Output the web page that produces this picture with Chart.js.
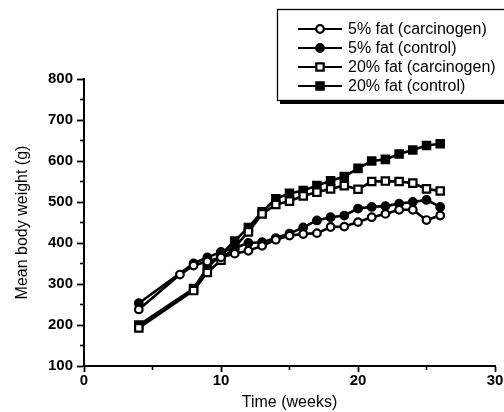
<!DOCTYPE html>
<html>
<head>
<meta charset="utf-8">
<script src="https://cdn.jsdelivr.net/npm/chart.js@4.4.1/dist/chart.umd.min.js"></script>
<style>
  body { margin: 0; background: #fff; }
  canvas { display: block; }
</style>
</head>
<body>
<canvas id="weightChart" width="504" height="412"></canvas>
<script>
// weeks at which each group was weighed
const weeksOpenCircle = [4, 7, 8, 9, 10, 11, 12, 13, 14, 15, 16, 17, 18, 19, 20, 21, 22, 23, 24, 25, 26];
const weeksOther = [4, 8, 9, 10, 11, 12, 13, 14, 15, 16, 17, 18, 19, 20, 21, 22, 23, 24, 25, 26];

// mean body weight (g)
const fat5Carcinogen = [238, 323, 345, 355, 365, 374, 381, 393, 408, 418, 422, 424, 439, 440, 451, 463, 471, 481, 481, 456, 467];
const fat5Control = [253, 350, 365, 378, 388, 400, 402, 412, 423, 438, 455, 463, 467, 484, 488, 490, 496, 500, 505, 488];
const fat20Carcinogen = [193, 284, 328, 358, 390, 427, 471, 494, 502, 515, 524, 532, 540, 531, 550, 551, 550, 546, 532, 527];
const fat20Control = [200, 289, 340, 372, 405, 438, 476, 508, 521, 528, 540, 552, 562, 582, 600, 604, 617, 627, 638, 642];

const seriesLabels = ['5% fat (carcinogen)', '5% fat (control)', '20% fat (carcinogen)', '20% fat (control)'];
const yTicksMinor = [150, 250, 350, 450, 550, 650, 750];
const xTicksMinor = [5, 15, 25];

const toPoints = (weeks, values) => weeks.map((w, i) => ({ x: w, y: values[i] }));

function makeSet(label, weeks, values, style, filled) {
    return {
        label: label,
        data: toPoints(weeks, values),
        borderColor: '#000',
        borderWidth: 2.6,
        tension: 0,
        pointStyle: style,
        pointRadius: style === 'rect' ? 5.2 : 3.8,
        pointBorderWidth: 2.2,
        pointBorderColor: '#000',
        pointBackgroundColor: filled ? '#000' : '#fff'
    };
}

// minor ticks and the boxed legend, drawn over the chart
const extrasPlugin = {
    id: 'extras',
    afterDraw(chart) {
        const ctx = chart.ctx;
        const x = chart.scales.x;
        const y = chart.scales.y;
        ctx.save();
        ctx.strokeStyle = '#000';
        ctx.lineWidth = 1.6;
        yTicksMinor.forEach(v => {
            const py = y.getPixelForValue(v);
            ctx.beginPath();
            ctx.moveTo(x.left - 4, py);
            ctx.lineTo(x.left, py);
            ctx.stroke();
        });
        xTicksMinor.forEach(v => {
            const px = x.getPixelForValue(v);
            ctx.beginPath();
            ctx.moveTo(px, y.bottom);
            ctx.lineTo(px, y.bottom + 4);
            ctx.stroke();
        });

        // legend box with a shadow
        ctx.fillStyle = '#000';
        ctx.fillRect(280, 101, 240, 3);
        ctx.fillStyle = '#fff';
        ctx.fillRect(277, 9, 240, 92);
        ctx.lineWidth = 1.3;
        ctx.strokeRect(277.5, 9.5, 240, 91);

        const rows = [29, 48, 67, 86];
        chart.data.datasets.forEach((ds, i) => {
            const ry = rows[i];
            ctx.lineWidth = 2.2;
            ctx.strokeStyle = '#000';
            ctx.beginPath();
            ctx.moveTo(298, ry);
            ctx.lineTo(342, ry);
            ctx.stroke();
            ctx.fillStyle = ds.pointBackgroundColor;
            Chart.helpers.drawPoint(ctx, {
                pointStyle: ds.pointStyle,
                radius: ds.pointRadius,
                borderWidth: ds.pointBorderWidth,
                rotation: 0
            }, 320, ry);
            ctx.fillStyle = '#000';
            ctx.font = '16px "Liberation Sans", Arial, sans-serif';
            ctx.textBaseline = 'middle';
            ctx.fillText(ds.label, 348, ry + 1);
        });
        ctx.restore();
    }
};

const axisFont = { family: '"Liberation Sans", Arial, sans-serif', size: 15, weight: 'bold' };
const titleFont = { family: '"Liberation Sans", Arial, sans-serif', size: 16 };

new Chart(document.getElementById('weightChart'), {
    type: 'line',
    data: {
        datasets: [
            makeSet(seriesLabels[0], weeksOpenCircle, fat5Carcinogen, 'circle', false),
            makeSet(seriesLabels[1], weeksOther, fat5Control, 'circle', true),
            makeSet(seriesLabels[2], weeksOther, fat20Carcinogen, 'rect', false),
            makeSet(seriesLabels[3], weeksOther, fat20Control, 'rect', true)
        ]
    },
    options: {
        responsive: false,
        animation: false,
        layout: { padding: { top: 79, right: 9, left: 0, bottom: 0 } },
        plugins: {
            legend: { display: false },
            tooltip: { enabled: false }
        },
        scales: {
            x: {
                type: 'linear',
                min: 0,
                max: 30,
                afterFit: s => { s.height = 46; },
                ticks: { stepSize: 10, color: '#000', font: axisFont, padding: 0, maxRotation: 0 },
                grid: { drawOnChartArea: false, color: '#000', tickLength: 6, tickWidth: 1.8 },
                border: { color: '#000', width: 2 },
                title: { display: true, text: 'Time (weeks)', color: '#000', font: titleFont, padding: { top: 0, bottom: 0 } }
            },
            y: {
                min: 100,
                max: 800,
                afterFit: s => { s.width = 84; },
                ticks: { stepSize: 100, color: '#000', font: axisFont, padding: 4 },
                grid: { drawOnChartArea: false, color: '#000', tickLength: 7, tickWidth: 1.8 },
                border: { color: '#000', width: 2 },
                title: { display: true, text: 'Mean body weight (g)', color: '#000', font: titleFont, padding: { top: 13, bottom: 0 } }
            }
        }
    },
    plugins: [extrasPlugin]
});
</script>
</body>
</html>
